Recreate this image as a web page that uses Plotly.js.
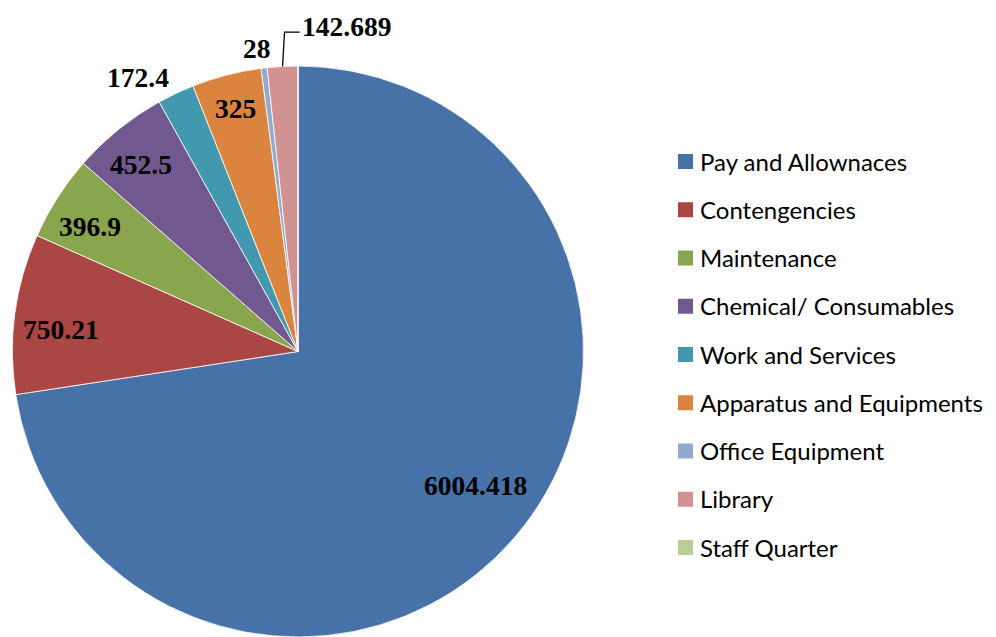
<!DOCTYPE html>
<html>
<head>
<meta charset="utf-8">
<script src="https://cdn.plot.ly/plotly-3.0.1.min.js"></script>
<style>
  html, body { margin: 0; padding: 0; background: #fff; overflow: hidden; }
</style>
</head>
<body>
<div id="chart" style="width:996px;height:637px"></div>
<script>
// Budget heads and amounts
const categories = [
  'Pay and Allownaces',
  'Contengencies',
  'Maintenance',
  'Chemical/ Consumables',
  'Work and Services',
  'Apparatus and Equipments',
  'Office Equipment',
  'Library',
  'Staff Quarter'
];
const amounts = [6004.418, 750.21, 396.9, 452.5, 172.4, 325, 28, 142.689, 0];

const sliceColors = [
  '#4672A8', '#AA4643', '#89A54E', '#71588F', '#4198AF',
  '#DB843D', '#93A9CF', '#D19392', '#B9CD96'
];

// Where each value label sits: radius as a fraction of the pie radius,
// plus an angular nudge (degrees) away from the slice's mid-angle.
const labelRadius = [0.78, 0.835, 0.85, 0.855, 1.11, 0.88, 1.072, 1.152, 0];
const labelNudge  = [-3.5, -2.3, -1.6, -1, -4.9, 0, -0.9, 11.6, 0];

// Page geometry (pixels)
const W = 996, H = 637;
const CX = 298, CY = 351.5, R = 285.5;
const px = x => x / W;
const py = y => 1 - y / H;

const total = amounts.reduce((a, b) => a + b, 0);

const annotations = [];
const shapes = [];

// Value labels, placed from each slice's angle
let cum = 0;
amounts.forEach((v, i) => {
  const start = cum / total * 360;
  cum += v;
  const end = cum / total * 360;
  if (v <= 0) return;
  const mid = (start + end) / 2;
  const ang = (mid + labelNudge[i]) * Math.PI / 180;
  const r = R * labelRadius[i];
  const x = CX + r * Math.sin(ang);
  const y = CY - r * Math.cos(ang);
  annotations.push({
    xref: 'paper', yref: 'paper', x: px(x), y: py(y),
    xanchor: 'center', yanchor: 'middle', showarrow: false,
    text: String(v),
    font: { family: 'Liberation Serif, Times New Roman, serif', size: 27.5, color: '#000', weight: 'bold' }
  });
  // Leader line for the label set furthest away from its slice
  if (labelRadius[i] > 1.12) {
    const ma = mid * Math.PI / 180;
    const x0 = CX + R * Math.sin(ma);
    const y0 = CY - R * Math.cos(ma);
    const lineY = y + 6;
    const x1 = x0 + 2;
    const x2 = x - 47;
    shapes.push({
      type: 'path', xref: 'paper', yref: 'paper',
      path: `M ${px(x0)} ${py(y0)} L ${px(x1)} ${py(lineY)} L ${px(x2)} ${py(lineY)}`,
      line: { color: '#000', width: 1.3 }
    });
  }
});

// Legend: colour squares with their category names
const legendTop = 161.5, legendStep = 48.25, box = 15;
categories.forEach((name, i) => {
  const yc = legendTop + legendStep * i;
  shapes.push({
    type: 'rect', xref: 'paper', yref: 'paper',
    x0: px(678), x1: px(678 + box), y0: py(yc - box / 2), y1: py(yc + box / 2),
    fillcolor: sliceColors[i], line: { width: 0 }
  });
  annotations.push({
    xref: 'paper', yref: 'paper', x: px(698), y: py(yc - 0.5),
    xanchor: 'left', yanchor: 'middle', showarrow: false,
    text: name,
    font: { family: 'Lato, Open Sans, sans-serif', size: 24, color: '#000' }
  });
});

const trace = {
  type: 'pie',
  labels: categories,
  values: amounts,
  sort: false,
  direction: 'clockwise',
  rotation: 0,
  textinfo: 'none',
  hoverinfo: 'label+value',
  marker: { colors: sliceColors, line: { color: '#ffffff', width: 0.8 } },
  domain: { x: [px(CX - R), px(CX + R)], y: [py(CY + R), py(CY - R)] },
  showlegend: false
};

const layout = {
  width: W, height: H,
  margin: { l: 0, r: 0, t: 0, b: 0 },
  paper_bgcolor: '#ffffff',
  showlegend: false,
  annotations: annotations,
  shapes: shapes
};

Plotly.newPlot('chart', [trace], layout, { displayModeBar: false, staticPlot: true });
</script>
</body>
</html>
